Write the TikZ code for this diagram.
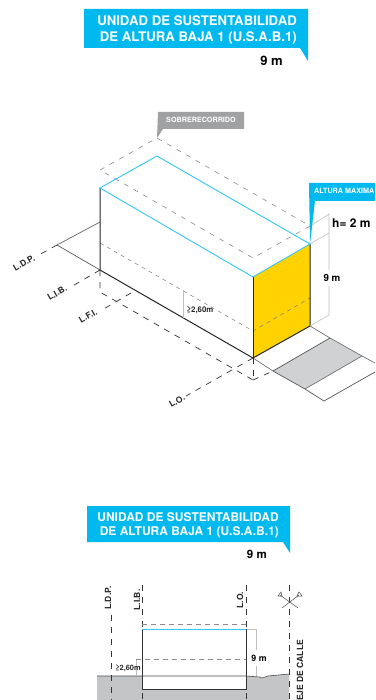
\documentclass[tikz,border=0pt]{standalone}
\usepackage{fontspec}
\setmainfont{TeX Gyre Heros}
\definecolor{cyanbox}{HTML}{00B9EE}
\definecolor{cyanline}{HTML}{33C5F3}
\definecolor{calloutgray}{HTML}{A0A1A3}
\definecolor{yellowface}{HTML}{FFD200}
\definecolor{sidewalk}{HTML}{D0D1D3}
\definecolor{groundgray}{HTML}{C4C5C7}
\tikzset{
  banner/.style={fill=cyanbox,draw=none},
  bannertext/.style={text=white,font=\bfseries\fontsize{13.2}{14}\selectfont,anchor=east,inner sep=0pt},
  bannertextb/.style={text=white,font=\bfseries\fontsize{12}{14}\selectfont,anchor=east,inner sep=0pt},
  measure/.style={font=\bfseries\fontsize{13}{14}\selectfont,inner sep=0pt},
  lbl/.style={font=\bfseries\fontsize{8.5}{10}\selectfont,inner sep=0pt,text=black!85},
  edge/.style={black!85,line width=1pt},
  thin edge/.style={black!65,line width=.7pt},
  cyanedge/.style={cyanline,line width=.9pt},
  dim/.style={black!25,line width=.6pt},
  over/.style={black!45,line width=.6pt,dash pattern=on 5pt off 6pt},
  hidden/.style={black!50,line width=.5pt,dash pattern=on 4pt off 4pt},
  axis/.style={black!80,line width=.7pt,dash pattern=on 6pt off 6pt},
}
\begin{document}
\begin{tikzpicture}[x=1pt,y=-1pt]
\useasboundingbox (0,0) rectangle (375,700);
\fill[white] (0,0) rectangle (375,700);
% top banner
\fill[banner] (84,9) -- (308,9) -- (308,61) -- (300,48) -- (84,48) -- cycle;
\node[bannertext] (t1) at (297,21) {UNIDAD DE SUSTENTABILIDAD};
\node[bannertext] (t2) at (297,38) {DE ALTURA BAJA 1 (U.S.A.B.1)};
\node[measure,anchor=east] (t3) at (283,61) {9 m};
% coordinates of the block
\coordinate (TL) at (100,188); \coordinate (TB) at (157,156);
\coordinate (TF) at (253,277); \coordinate (TR) at (310,244);
\coordinate (BL) at (100,270); \coordinate (BF) at (253,358); \coordinate (BR) at (310,326);
\coordinate (OL) at (100,170); \coordinate (OB) at (157,138);
\coordinate (OF) at (253,258); \coordinate (OR) at (310,226);
\coordinate (ML) at (100,243); \coordinate (MF) at (253,331); \coordinate (MR) at (310,298);
% ground left
\coordinate (GB) at (100,222); \coordinate (GL) at (57,245);
\draw[thin edge,black!60] (GB) -- (GL);
\draw[thin edge] (GL) -- (BL);
% sidewalk
\coordinate (S1) at (273,371); \coordinate (S2) at (330,338);
\coordinate (S3) at (362,356); \coordinate (S4) at (305,389);
\coordinate (S5) at (324,401);
\fill[sidewalk] (S1) -- (S2) -- (S3) -- (S4) -- cycle;
\draw[thin edge,black!55] (BF) -- (S1);
\draw[thin edge,black!55] (BR) -- (S2);
\draw[thin edge] (S1) -- (S2);
\draw[thin edge,black!55] (S2) -- (S3) -- (375,363);
\draw[thin edge,black!55] (S3) -- (S4);
\draw[thin edge] (S1) -- (S4) -- (S5) -- (375,372);
% faces
\fill[yellowface] (TF) -- (TR) -- (BR) -- (BF) -- cycle;
% overrun
\draw[over] (OL) -- (OB) -- (OR) -- (OF) -- cycle;
% hidden line
\draw[hidden] (ML) -- (MF) -- (MR);
% block edges
\draw[edge] (TL) -- (BL) -- (BF) -- (BR) -- (TR);
\draw[edge] (TF) -- (BF);
\draw[cyanedge] (TL) -- (TB) -- (TR) -- (TF) -- cycle;
% dims
\draw[dim] (183,290) -- (183,318);
\node[lbl,font=\bfseries\fontsize{7.8}{9}\selectfont] (h1) at (200,310) {≥2,60m};
\draw[dim] (TR) -- (329,233);
\draw[dim] (OR) -- (329,214) -- (329,270);
\draw[dim] (329,286) -- (329,315) -- (BR);
\node[measure,font=\bfseries\fontsize{9.8}{11}\selectfont] (n9) at (332,278) {9 m};
\node[measure,anchor=west,font=\bfseries\fontsize{12}{13}\selectfont] (h2) at (332,223) {h= 2 m};
% callouts
\fill[cyanbox] (309,183) -- (375,183) -- (375,201) -- (315,201) -- (310,244) -- cycle;
\node[font=\bfseries\fontsize{7.2}{9}\selectfont,text=white,anchor=west,inner sep=0pt] (am) at (314,191) {ALTURA MAXIMA};
\fill[calloutgray] (158,112) -- (244,112) -- (244,129) -- (163,129) -- (157,138) -- cycle;
\node[font=\bfseries\fontsize{7.2}{8}\selectfont,text=white,inner sep=0pt] (sr) at (201,120) {SOBRERECORRIDO};
% axis lines
\coordinate (LIBa) at (69,288);
\coordinate (LFc) at (100,292);
\coordinate (LFd) at (253,380);
\coordinate (LFa) at (102,310);
\coordinate (LFb) at (131,293);
\coordinate (LOa) at (186,396);
\draw[axis] (GL) -- (37,256);
\draw[axis] (BL) -- (LIBa);
\draw[axis] (BL) -- (LFc) -- (LFd);
\draw[axis] (LFb) -- (LFa);
\draw[axis] (BF) -- (LFd);
\draw[axis] (LFd) -- (S1);
\draw[axis] (BF) -- (LOa);
\node[lbl,rotate=30] (ldp) at (24,263) {L.D.P.};
\node[lbl,rotate=30] (lib) at (57,293) {L.I.B.};
\node[lbl,rotate=30] (lfi) at (88,316) {L.F.I.};
\node[lbl,rotate=30] (lo) at (177,401) {L.O.};
% second banner
\fill[banner] (87,506) -- (290,506) -- (290,553) -- (283,542) -- (87,542) -- cycle;
\node[bannertextb] (b1) at (279,517) {UNIDAD DE SUSTENTABILIDAD};
\node[bannertextb] (b2) at (279,532) {DE ALTURA BAJA 1 (U.S.A.B.1)};
\node[measure,anchor=east,font=\bfseries\fontsize{11.5}{13}\selectfont] (b3) at (267,554) {9 m};
% section
\fill[groundgray] (97,676) -- (246,676) -- (260,677) -- (262,678) -- (268,676) -- (289,674) -- (289,700) -- (97,700) -- cycle;
\fill[white] (142,629) rectangle (246,689);
\draw[black!70,line width=.6pt] (97,676) -- (246,676) -- (260,677) -- (262,678) -- (268,676) -- (289,674);
\draw[axis] (111,615) -- (111,700);
\draw[axis] (142,585) -- (142,700);
\draw[axis] (246,585) -- (246,700);
\draw[axis] (289.5,585) -- (289.5,700);
\draw[dim] (246,629) -- (256,629) -- (256,650);
\draw[dim] (256,666) -- (256,676);
\draw[dim] (136,676) -- (136,659);
\draw[over,dash pattern=on 5pt off 4pt] (142,624) -- (246,624);
\draw[over,dash pattern=on 5pt off 4pt] (136,659) -- (246,659);
\draw[edge,black!80] (142,629) -- (142,689) -- (246,689) -- (246,629);
\draw[cyanedge] (142,629) -- (246,629);
\node[measure,font=\bfseries\fontsize{8.8}{10}\selectfont] (s9) at (259,658) {9 m};
\node[lbl,font=\bfseries\fontsize{7.4}{9}\selectfont] (s260) at (128,668) {≥2,60m};
\node[lbl,rotate=90] (sldp) at (108,598) {L.D.P.};
\node[lbl,rotate=90] (slib) at (137,600) {L.I.B.};
\node[lbl,rotate=90] (slo) at (240,600) {L.O.};
\node[lbl,rotate=90,anchor=west,font=\bfseries\fontsize{8.5}{10}\selectfont] (eje) at (300,701) {EJE DE CALLE};
% street axis symbol
\draw[black!70,line width=.5pt] (282,608) -- (299,595) (298,608) -- (280,595);
\draw[black!70,line width=.5pt] (278,596) -- (281,592) -- (282,596) -- cycle;
\draw[black!70,line width=.5pt] (297,596) -- (299,592) -- (302,596) -- cycle;
\end{tikzpicture}
\end{document}
